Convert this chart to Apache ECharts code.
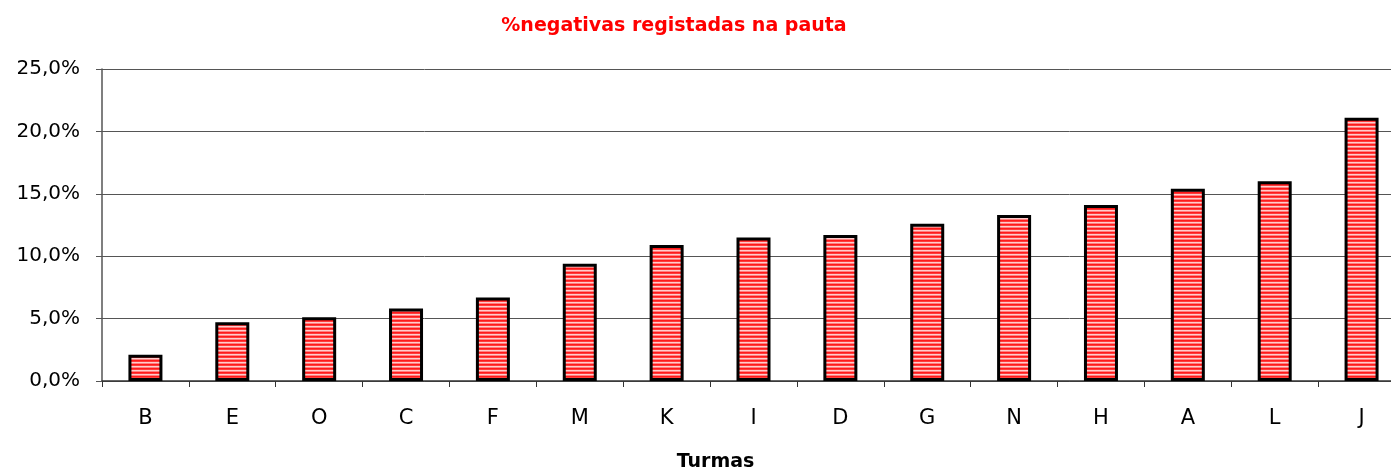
<!DOCTYPE html>
<html>
<head>
<meta charset="utf-8">
<script src="https://cdn.jsdelivr.net/npm/echarts@6/dist/echarts.min.js"></script>
<style>
  html, body { margin: 0; padding: 0; background: #fff; }
  #chart { width: 1391px; height: 474px; }
</style>
</head>
<body>
<div id="chart"></div>
<script>
// Classes (turmas) ordered by share of negative marks
const categories = ['B', 'E', 'O', 'C', 'F', 'M', 'K', 'I', 'D', 'G', 'N', 'H', 'A', 'L', 'J'];
// Percentage of negative marks recorded in the grade sheet
const negativas = [2.1, 4.7, 5.1, 5.8, 6.7, 9.4, 10.9, 11.5, 11.7, 12.6, 13.3, 14.1, 15.4, 16.0, 21.1];
const yTicks = [0, 5, 10, 15, 20, 25];

// Horizontal red/pink stripe fill for the bars (4px repeat)
function stripePattern() {
  const rows = ['#ff1a1a', '#ff3c3c', '#ffcccc', '#ff8080'];
  const c = document.createElement('canvas');
  c.width = 4; c.height = rows.length;
  const g = c.getContext('2d');
  rows.forEach((col, i) => { g.fillStyle = col; g.fillRect(0, i, 4, 1); });
  return c;
}

const chart = echarts.init(document.getElementById('chart'), null, { renderer: 'canvas' });
const font = '"DejaVu Sans", "Liberation Sans", Arial, sans-serif';

chart.setOption({
  animation: false,
  title: {
    text: '%negativas registadas na pauta',
    left: 669,
    textAlign: 'center',
    top: 12,
    textStyle: { color: '#ff0000', fontSize: 19, fontWeight: 'bold', fontFamily: font }
  },
  grid: {
    left: 102, right: -14, top: 69, bottom: 93,
    containLabel: false,
    outerBoundsMode: 'none'
  },
  xAxis: {
    type: 'category',
    data: categories,
    name: 'Turmas',
    nameLocation: 'middle',
    nameGap: 72,
    nameTextStyle: {
      fontSize: 19, fontWeight: 'bold', color: '#000', fontFamily: font,
      padding: [0, 76, 0, 0]
    },
    axisLine: { lineStyle: { color: '#333', width: 1.5 } },
    axisTick: { show: true, alignWithLabel: false, length: 6, lineStyle: { color: '#333' } },
    axisLabel: { fontSize: 21, color: '#000', margin: 27, fontFamily: font }
  },
  yAxis: {
    type: 'value',
    min: yTicks[0],
    max: yTicks[yTicks.length - 1],
    interval: 5,
    axisLine: { show: true, lineStyle: { color: '#555', width: 1.5 } },
    axisTick: { show: true, length: 6, lineStyle: { color: '#555' } },
    axisLabel: {
      fontSize: 20, color: '#000', margin: 22, fontFamily: font,
      formatter: v => v.toFixed(1).replace('.', ',') + '%'
    },
    splitLine: { show: true, lineStyle: { color: '#555', width: 1 } }
  },
  series: [{
    type: 'bar',
    data: negativas,
    barWidth: 34,
    itemStyle: {
      color: { image: stripePattern(), repeat: 'repeat' },
      borderColor: '#000',
      borderWidth: 3
    }
  }]
});
</script>
</body>
</html>
